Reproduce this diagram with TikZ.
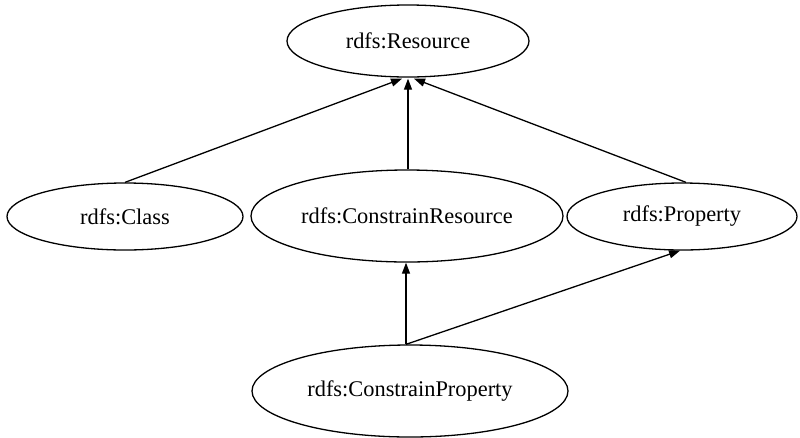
\documentclass[tikz,border=0pt]{standalone}
\usepackage{fontspec}
\setmainfont{Liberation Serif}
\usetikzlibrary{shapes.geometric,arrows.meta}
\begin{document}
\begin{tikzpicture}[x=1pt,y=-1pt,
  ell/.style={ellipse,draw,line width=1.3pt,inner sep=0pt,font=\fontsize{22.4pt}{24pt}\selectfont},
  edge/.style={line width=1.3pt,-{Triangle[length=11pt,width=8pt]}}]
\useasboundingbox (0,0) rectangle (800,437);
\node[ell,minimum width=242pt,minimum height=72pt] (res) at (408,41) {rdfs:Resource};
\node[ell,minimum width=236pt,minimum height=67pt] (cls) at (125,216.5) {rdfs:Class};
\node[ell,minimum width=312pt,minimum height=92pt] (cres) at (407,216) {rdfs:ConstrainResource};
\node[ell,minimum width=230pt,minimum height=67pt] (prop) at (682,216.5) {rdfs:Property};
\node[ell,minimum width=316pt,minimum height=92pt] (cprop) at (410,391) {rdfs:ConstrainProperty};
\draw[edge] (cls.north) -- ([xshift=-6pt,yshift=-1pt]res.south);
\draw[edge] ([xshift=1pt]cres.north) -- ([yshift=-1pt]res.south);
\draw[edge] ([xshift=4pt]prop.north) -- ([xshift=6pt,yshift=-1pt]res.south);
\draw[edge] ([xshift=-4pt]cprop.north) -- ([xshift=-1pt]cres.south);
\draw[edge] ([xshift=-4pt]cprop.north) -- ([xshift=-2pt]prop.south);
\end{tikzpicture}
\end{document}
